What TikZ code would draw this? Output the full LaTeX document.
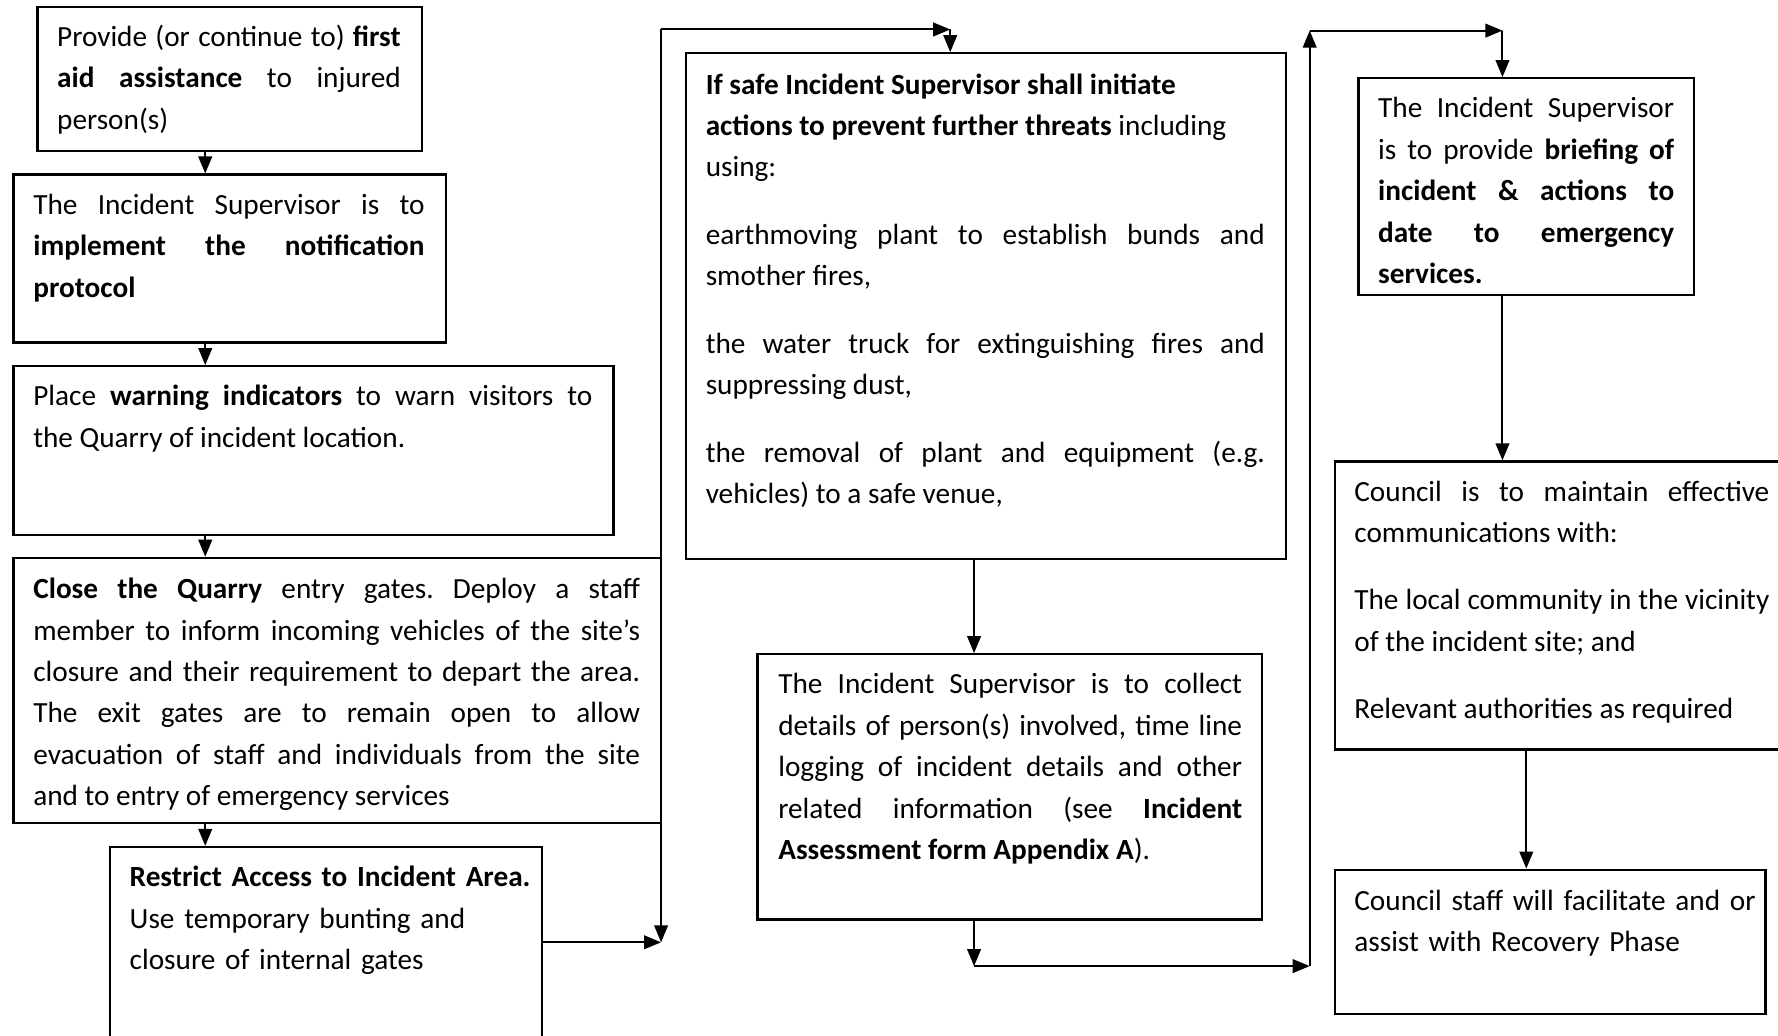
\documentclass[tikz,border=0pt]{standalone}
\usepackage{fontspec}
\setmainfont{Carlito}
\usetikzlibrary{arrows.meta,fit}
\hyphenpenalty=10000
\frenchspacing
\tikzset{
  box/.style={draw, line width=1pt, inner sep=0pt},
  txt/.style={anchor=north west, inner sep=0pt, align=justify, font=\fontsize{12.9}{18.25}\selectfont},
  rag/.style={txt, align=left},
  arr/.style={line width=0.9pt, -{Triangle[length=7.5pt,width=6pt]}}
}
\begin{document}
\begin{tikzpicture}[x=0.5pt,y=-0.5pt]
  \useasboundingbox (0,0) rectangle (1568,913);

  % left column
  \node[box, fit={(33,6) (372,133)}] (aid) {};
  \node[box, fit={(12,154) (393,302)}] (notify) {};
  \node[box, fit={(12,323) (541,472)}] (warn) {};
  \node[box, fit={(12,492) (583,726)}] (close) {};
  \node[box, fit={(97,747) (478,940)}] (restrict) {};

  \node[txt, text width=151.5pt] (aid-t) at ([shift={(18,10)}]aid.north west)
    {\strut Provide (or continue to) \textbf{first}\linebreak \textbf{aid assistance} to injured\linebreak person(s)};
  \node[txt, text width=172.5pt] (notify-t) at ([shift={(18,10)}]notify.north west)
    {\strut The Incident Supervisor is to\linebreak \textbf{implement the notification}\linebreak \textbf{protocol}};
  \node[txt, text width=246.5pt] (warn-t) at ([shift={(18,10)}]warn.north west)
    {\strut Place \textbf{warning indicators} to warn visitors to\linebreak the Quarry of incident location.};
  \node[txt, text width=267.5pt] (close-t) at ([shift={(18,11)}]close.north west)
    {\strut \textbf{Close the Quarry} entry gates. Deploy a staff\linebreak
     member to inform incoming vehicles of the site’s\linebreak
     closure and their requirement to depart the area.\linebreak
     The exit gates are to remain open to allow\linebreak
     evacuation of staff and individuals from the site\linebreak
     and to entry of emergency services};
  \node[rag, text width=185pt] (restrict-t) at ([shift={(18,10)}]restrict.north west)
    {\strut\textbf{Restrict Access to Incident Area.}\\ Use temporary bunting and\\ closure of internal gates};

  \coordinate (lx) at (181,0);
  \foreach \a/\b in {aid/notify, notify/warn, warn/close, close/restrict}
    \draw[arr] (\a.south -| lx) -- (\b.north -| lx);

  \coordinate (j1) at (583,831);
  \coordinate (c1) at (583,26);
  \coordinate (c2) at (838,26);
  \draw[arr] (restrict.east |- j1) -- (j1);
  \draw[arr] (c1) -- (j1);
  \draw[arr] (c1) -- (c2);

  % middle column
  \node[box, fit={(605,47) (1134,493)}] (prevent) {};
  \node[box, fit={(668,577) (1113,811)}] (collect) {};

  \node[txt, text width=246.5pt] (prevent-t) at ([shift={(18,11)}]prevent.north west)
    {\strut\textbf{If safe Incident Supervisor shall initiate}\\
     \textbf{actions to prevent further threats} including\\
     using:\\[11.5pt]
     earthmoving plant to establish bunds and\linebreak smother fires,\\[11.5pt]
     the water truck for extinguishing fires and\linebreak suppressing dust,\\[11.5pt]
     the removal of plant and equipment (e.g.\linebreak vehicles) to a safe venue,};
  \node[txt, text width=204.5pt] (collect-t) at ([shift={(19,10)}]collect.north west)
    {\strut The Incident Supervisor is to collect\linebreak
     details of person(s) involved, time line\linebreak
     logging of incident details and other\linebreak
     related information (see \textbf{Incident}\linebreak
     \textbf{Assessment form Appendix A}).};

  \draw[arr] (c2) -- (prevent.north -| c2);
  \coordinate (mx) at (859,0);
  \coordinate (c3) at (859,852);
  \coordinate (c4) at (1155,852);
  \coordinate (c5) at (1155,27);
  \coordinate (c6) at (1325,27);
  \draw[arr] (prevent.south -| mx) -- (collect.north -| mx);
  \draw[arr] (collect.south -| mx) -- (c3);
  \draw[arr] (c3) -- (c4);
  \draw[arr] (c4) -- (c5);
  \draw[arr] (c5) -- (c6);

  % right column
  \node[box, fit={(1198,69) (1494,260)}] (brief) {};
  \node[box, fit={(1177,407) (1600,661)}] (comms) {};
  \node[box, fit={(1177,767) (1557,894)}] (recovery) {};

  \node[txt, text width=130.5pt] (brief-t) at ([shift={(18,10)}]brief.north west)
    {\strut The Incident Supervisor\linebreak is to provide \textbf{briefing of}\linebreak
     \textbf{incident \& actions to}\linebreak \textbf{date to emergency}\linebreak \textbf{services.}};
  \node[txt, text width=183pt] (comms-t) at ([shift={(18,10)}]comms.north west)
    {\strut Council is to maintain effective\linebreak communications with:\\[11.5pt]
     The local community in the vicinity\linebreak of the incident site; and\\[11.5pt]
     Relevant authorities as required};
  \node[rag, text width=183pt] (recovery-t) at ([shift={(18,11)}]recovery.north west)
    {\strut Council staff will facilitate and or\\ assist with Recovery Phase};

  \draw[arr] (c6) -- (brief.north -| c6);
  \draw[arr] (brief.south -| c6) -- (comms.north -| c6);
  \coordinate (rx) at (1346,0);
  \draw[arr] (comms.south -| rx) -- (recovery.north -| rx);
\end{tikzpicture}
\end{document}
